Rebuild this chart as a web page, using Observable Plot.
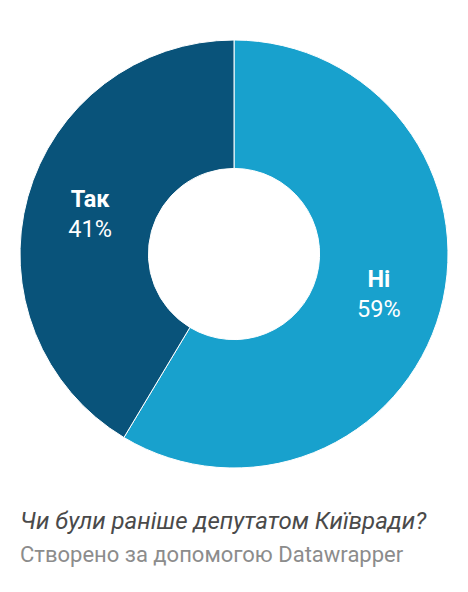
<!DOCTYPE html>
<html><head><meta charset="utf-8">
<script src="https://cdn.jsdelivr.net/npm/d3@7"></script>
<script src="https://cdn.jsdelivr.net/npm/@observablehq/plot@0.6"></script>
<style>
body{margin:0;background:#fff;font-family:Roboto,sans-serif;}
#chart svg{display:block;}
.title{font-style:italic;font-size:24px;color:#4a4a4a;margin:17px 0 0 20px;line-height:28px;}
.credit{font-size:22px;color:#8c8c8c;margin:7px 0 0 20px;line-height:26px;}
</style></head>
<body>
<div id="chart"></div>
<div class="title">Чи були раніше депутатом Київради?</div>
<div class="credit">Створено за допомогою Datawrapper</div>
<script>
const categories = ["Ні", "Так"];
const values = [58.6, 41.4];
const colors = ["#18a1cd", "#09537a"];
const percentLabels = ["59%", "41%"];

const data = categories.map((c, i) => ({category: c, value: values[i], pct: percentLabels[i]}));
const arcs = d3.pie().sort(null).value(d => d.value)(data);
const innerRatio = 0.40;
const labelR = (innerRatio + 1) / 2;
const labelData = arcs.map(a => {
  const mid = (a.startAngle + a.endAngle) / 2;
  return {category: a.data.category, pct: a.data.pct, x: Math.sin(mid) * labelR, y: Math.cos(mid) * labelR};
});
const color = d3.scaleOrdinal(categories, colors);

function donut(index, scales, vals, dims, context) {
  const cx = scales.x(0), cy = scales.y(0);
  const R = scales.x(1) - cx;
  const arc = d3.arc().innerRadius(R * innerRatio).outerRadius(R);
  const g = d3.create("svg:g").attr("transform", `translate(${cx},${cy})`);
  g.selectAll("path").data(arcs).join("path")
    .attr("d", arc)
    .attr("fill", d => color(d.data.category))
    .attr("stroke", "#fff")
    .attr("stroke-width", 1);
  return g.node();
}

const chart = Plot.plot({
  width: 468,
  height: 490,
  marginLeft: 20, marginRight: 20, marginTop: 40, marginBottom: 22,
  x: {domain: [-1, 1], axis: null},
  y: {domain: [-1, 1], axis: null},
  style: {fontFamily: "Roboto, sans-serif", background: "#fff"},
  marks: [
    donut,
    Plot.text(labelData, {x: "x", y: "y", text: "category", dy: -15, fill: "#fff", fontSize: 23.5, fontWeight: "bold"}),
    Plot.text(labelData, {x: "x", y: "y", text: "pct", dy: 15, fill: "#fff", fontSize: 23.5})
  ]
});
document.getElementById("chart").appendChild(chart);
</script>
</body></html>
